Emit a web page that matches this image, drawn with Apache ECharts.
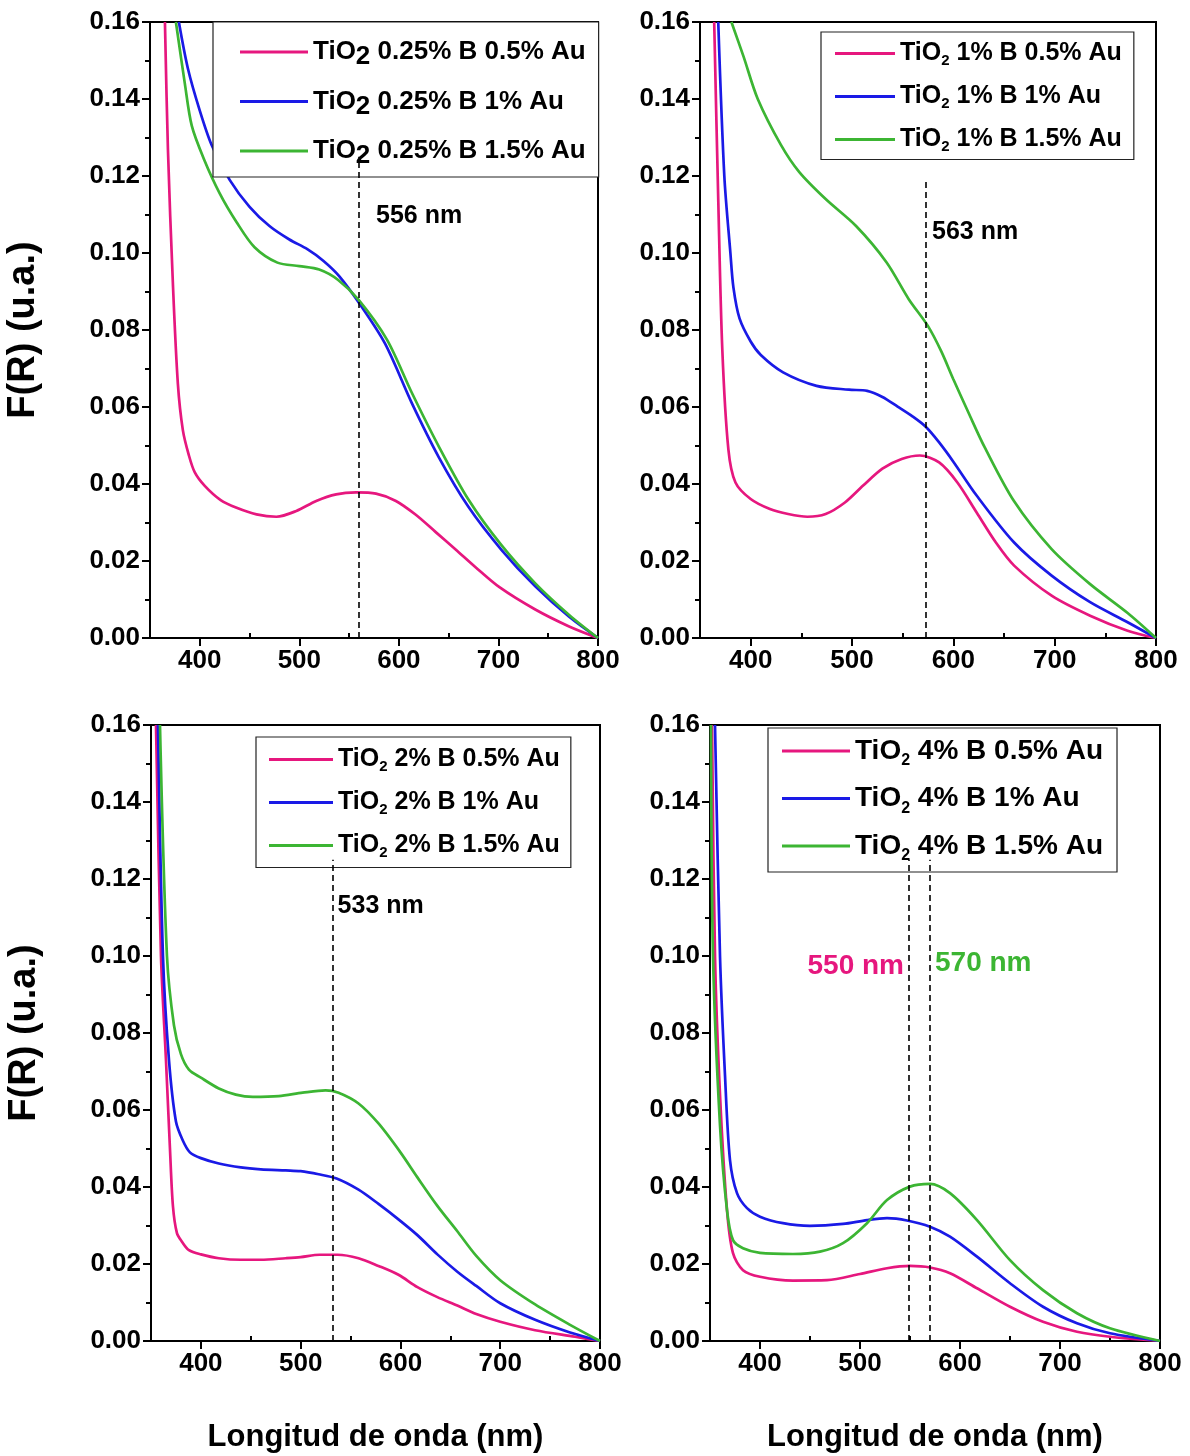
<!DOCTYPE html>
<html>
<head>
<meta charset="utf-8">
<script src="https://cdn.jsdelivr.net/npm/echarts@6/dist/echarts.min.js"></script>
<style>
  html, body { margin: 0; padding: 0; background: #fff; }
  #chart { width: 1190px; height: 1456px; }
</style>
</head>
<body>
<div id="chart"></div>
<script>
// ---- data (wavelength nm, F(R)) ----
var tlPink = [[365,0.16],[368,0.127],[373,0.092],[378,0.066],[383,0.054],[389,0.0475],[395,0.043],[405,0.0395],[421,0.0358],[437,0.0338],[457,0.0321],[477,0.0315],[497,0.0330],[517,0.0356],[537,0.0373],[557,0.0378],[577,0.0375],[597,0.0356],[617,0.0320],[637,0.0275],[657,0.0230],[677,0.0184],[701,0.0132],[737,0.0074],[771,0.0030],[800,0]];
var tlBlue = [[379,0.16],[388,0.148],[400,0.137],[412,0.128],[430,0.119],[450,0.112],[470,0.107],[490,0.1035],[508,0.101],[524,0.098],[540,0.094],[560,0.087],[586,0.0765],[613,0.061],[640,0.047],[670,0.034],[703,0.0229],[737,0.0134],[771,0.0055],[800,0]];
var tlGreen = [[376,0.16],[385,0.144],[392,0.133],[404,0.1245],[420,0.1155],[437,0.108],[455,0.1015],[478,0.0975],[500,0.0966],[520,0.0957],[539,0.093],[560,0.0877],[588,0.0775],[613,0.0637],[640,0.0498],[670,0.0359],[703,0.0241],[737,0.0142],[771,0.006],[800,0]];

var trPink = [[364,0.16],[368,0.114],[372,0.075],[378,0.049],[385,0.0404],[400,0.0361],[419,0.0335],[437,0.0322],[456,0.0315],[474,0.0322],[493,0.0352],[511,0.0396],[530,0.044],[549,0.0465],[567,0.0474],[586,0.0456],[604,0.0404],[623,0.0326],[642,0.0248],[660,0.0188],[697,0.011],[735,0.0058],[772,0.0019],[800,0]];
var trBlue = [[368,0.16],[374,0.12],[380,0.10],[383,0.091],[389,0.083],[400,0.077],[410,0.0735],[432,0.069],[465,0.0655],[497,0.0645],[515,0.0642],[530,0.0626],[545,0.0601],[560,0.0575],[573,0.0548],[586,0.0508],[600,0.0458],[623,0.037],[660,0.0248],[697,0.0162],[735,0.0093],[772,0.0041],[800,0]];
var trGreen = [[381,0.16],[393,0.151],[407,0.14],[430,0.128],[448,0.121],[474,0.114],[504,0.107],[534,0.0976],[556,0.088],[575,0.081],[588,0.0745],[600,0.0672],[615,0.0585],[631,0.0495],[660,0.0355],[697,0.0231],[735,0.0140],[772,0.0065],[800,0]];

var blPink = [[355,0.16],[360,0.10],[365,0.073],[369,0.05],[372,0.035],[376,0.028],[381,0.0258],[388,0.0236],[400,0.0225],[418,0.0215],[440,0.0211],[460,0.0211],[485,0.0215],[500,0.0218],[519,0.0224],[537,0.0224],[558,0.0215],[578,0.0195],[598,0.0172],[617,0.0140],[637,0.0114],[657,0.0092],[676,0.0070],[700,0.0050],[735,0.0028],[775,0.0011],[800,0]];
var blBlue = [[357,0.16],[362,0.10],[368,0.073],[375,0.057],[382,0.052],[389,0.049],[400,0.0475],[418,0.0461],[440,0.0451],[460,0.0446],[485,0.0443],[500,0.0441],[518,0.0433],[536,0.0422],[558,0.0393],[578,0.0356],[598,0.0316],[617,0.0275],[637,0.0225],[657,0.0180],[676,0.0143],[700,0.0098],[735,0.0055],[770,0.0022],[800,0]];
var blGreen = [[359,0.16],[366,0.10],[373,0.082],[380,0.0745],[388,0.0705],[400,0.0684],[418,0.0656],[435,0.064],[452,0.0634],[478,0.0636],[502,0.0645],[525,0.0651],[538,0.0645],[558,0.0617],[578,0.0565],[600,0.049],[617,0.0425],[637,0.0351],[657,0.0285],[676,0.0221],[700,0.0158],[735,0.0095],[770,0.0042],[800,0]];

var brPink = [[352,0.16],[355,0.10],[360,0.064],[367,0.034],[373,0.0228],[383,0.0184],[400,0.0167],[433,0.0157],[467,0.0158],[500,0.0174],[527,0.0189],[550,0.0195],[570,0.0191],[590,0.0176],[617,0.0137],[650,0.0089],[683,0.005],[717,0.0024],[750,0.0011],[800,0]];
var brBlue = [[355,0.16],[360,0.10],[365,0.069],[370,0.047],[377,0.0384],[387,0.0345],[400,0.0323],[423,0.0306],[450,0.0299],[483,0.0304],[507,0.0314],[527,0.0319],[547,0.0313],[570,0.0297],[590,0.0271],[617,0.0219],[650,0.015],[683,0.0089],[717,0.0046],[750,0.002],[800,0]];
var brGreen = [[351,0.16],[353,0.10],[360,0.056],[367,0.034],[373,0.0262],[383,0.0241],[400,0.0229],[433,0.0226],[460,0.0232],[483,0.0254],[507,0.0306],[527,0.0366],[550,0.0401],[570,0.0408],[590,0.0384],[617,0.0314],[650,0.021],[683,0.0132],[717,0.0072],[750,0.0033],[800,0]];

var tlNames = ['TiO2 0.25% B 0.5% Au', 'TiO2 0.25% B 1% Au', 'TiO2 0.25% B 1.5% Au'];
var trNames = ['TiO2 1% B 0.5% Au', 'TiO2 1% B 1% Au', 'TiO2 1% B 1.5% Au'];
var blNames = ['TiO2 2% B 0.5% Au', 'TiO2 2% B 1% Au', 'TiO2 2% B 1.5% Au'];
var brNames = ['TiO2 4% B 0.5% Au', 'TiO2 4% B 1% Au', 'TiO2 4% B 1.5% Au'];

var xMajorTicks = [400, 500, 600, 700, 800];
var xMinorTicks = [350, 450, 550, 650, 750];

// dashed peak lines: [wavelength, top value]
var peakTL = [560, 0.125];
var peakTR = [573, 0.119];
var peakBL = [532, 0.125];
var peakBR = [[549, 0.125], [570, 0.125]];

var FONT = "'Liberation Sans', Arial, sans-serif";
var PINK = '#e6177e';
var BLUE = '#1a1ae6';
var GREEN = '#3cb533';

var grids = [
    { left: 150, top: 22, width: 448, height: 616 },
    { left: 700, top: 22, width: 456, height: 616 },
    { left: 151, top: 725, width: 449, height: 616 },
    { left: 710, top: 725, width: 450, height: 616 }
];
grids.forEach(function (g) {
    g.show = true;
    g.borderColor = '#000';
    g.borderWidth = 2;
    g.backgroundColor = 'transparent';
});

function MainXAxis(_i, _withName) {
    return {
        type: 'value', gridIndex: _i, min: 350, max: 800,
        axisLine: { show: true, onZero: false, lineStyle: { color: '#000', width: 2 } },
        axisTick: { show: true, customValues: xMajorTicks, length: 8, lineStyle: { color: '#000', width: 2 } },
        axisLabel: {
            customValues: xMajorTicks, margin: 10, color: '#000',
            fontFamily: FONT, fontWeight: 'bold', fontSize: 26
        },
        splitLine: { show: false },
        name: _withName ? 'Longitud de onda (nm)' : '',
        nameLocation: 'middle',
        nameGap: 81,
        nameTextStyle: { fontFamily: FONT, fontWeight: 'bold', fontSize: 31, color: '#000' }
    };
}

function MinorXAxis(_i) {
    return {
        type: 'value', gridIndex: _i, min: 350, max: 800,
        axisLine: { show: false },
        axisTick: { show: true, customValues: xMinorTicks, length: 5, lineStyle: { color: '#000', width: 2 } },
        axisLabel: { show: false },
        splitLine: { show: false }
    };
}

function MakeYAxis(_i, _withName) {
    return {
        type: 'value', gridIndex: _i, min: 0, max: 0.16, interval: 0.02,
        axisLine: { show: true, onZero: false, lineStyle: { color: '#000', width: 2 } },
        axisTick: { show: true, length: 8, lineStyle: { color: '#000', width: 2 } },
        minorTick: { show: true, splitNumber: 2, length: 5, lineStyle: { color: '#000', width: 2 } },
        axisLabel: {
            margin: 10, color: '#000', fontFamily: FONT, fontWeight: 'bold', fontSize: 26,
            formatter: function (v) { return v.toFixed(2); }
        },
        splitLine: { show: false },
        minorSplitLine: { show: false },
        name: _withName ? 'F(R) (u.a.)' : '',
        nameLocation: 'middle',
        nameGap: 107,
        nameTextStyle: { fontFamily: FONT, fontWeight: 'bold', fontSize: 38, color: '#000' }
    };
}

function MakeLegend(_names, _cfg) {
    var subLine = 2 * (_cfg.lh / 2 - _cfg.drop);
    return {
        orient: 'vertical',
        left: _cfg.left, top: _cfg.top,
        padding: _cfg.padding,
        itemGap: _cfg.gap,
        itemWidth: _cfg.iw, itemHeight: 3,
        icon: 'rect',
        selectedMode: false,
        backgroundColor: '#fff',
        borderColor: '#222', borderWidth: 1.2,
        data: _names,
        formatter: function (name) {
            return '{b|TiO}{s|2}{b|' + name.slice(4) + '}';
        },
        textStyle: {
            color: '#000',
            rich: {
                b: { fontFamily: FONT, fontWeight: 'bold', fontSize: _cfg.fs, color: '#000', lineHeight: _cfg.lh, verticalAlign: 'middle' },
                s: { fontFamily: FONT, fontWeight: 'bold', fontSize: _cfg.sub, color: '#000', lineHeight: subLine, verticalAlign: 'bottom' }
            }
        }
    };
}

function Spectrum(_name, _data, _color, _i) {
    return {
        name: _name, type: 'line', xAxisIndex: _i, yAxisIndex: _i,
        data: _data, symbol: 'none', showSymbol: false,
        smooth: 0.3,
        color: _color,
        itemStyle: { color: _color },
        lineStyle: { width: 2.7, color: _color },
        z: 3
    };
}

function DashedLines(_lines) {
    return {
        silent: true,
        symbol: ['none', 'none'],
        label: { show: false },
        lineStyle: { color: '#000', type: [6, 4], width: 1.6 },
        data: _lines.map(function (l) { return [{ coord: [l[0], 0] }, { coord: [l[0], l[1]] }]; })
    };
}

function PeakText(_text, _coord, _pos, _color, _size) {
    return {
        coord: _coord,
        symbol: 'circle', symbolSize: 0,
        label: {
            show: true, position: _pos, distance: 5, formatter: _text,
            fontFamily: FONT, fontWeight: 'bold', fontSize: _size, color: _color
        }
    };
}

var sTL = Spectrum(tlNames[0], tlPink, PINK, 0);
sTL.markLine = DashedLines([peakTL]);
sTL.markPoint = { silent: true, data: [PeakText('556 nm', [572, 0.1096], 'right', '#000', 25)] };

var sTR = Spectrum(trNames[0], trPink, PINK, 1);
sTR.markLine = DashedLines([peakTR]);
sTR.markPoint = { silent: true, data: [PeakText('563 nm', [574, 0.1055], 'right', '#000', 25)] };

var sBL = Spectrum(blNames[0], blPink, PINK, 2);
sBL.markLine = DashedLines([peakBL]);
sBL.markPoint = { silent: true, data: [PeakText('533 nm', [532, 0.113], 'right', '#000', 25)] };

var sBR = Spectrum(brNames[0], brPink, PINK, 3);
sBR.markLine = DashedLines(peakBR);
sBR.markPoint = {
    silent: true,
    data: [
        PeakText('550 nm', [549, 0.0974], 'left', PINK, 28),
        PeakText('570 nm', [570, 0.0982], 'right', GREEN, 28)
    ]
};

var option = {
    animation: false,
    backgroundColor: '#fff',
    grid: grids,
    xAxis: [
        MainXAxis(0, false), MainXAxis(1, false), MainXAxis(2, true), MainXAxis(3, true),
        MinorXAxis(0), MinorXAxis(1), MinorXAxis(2), MinorXAxis(3)
    ],
    yAxis: [MakeYAxis(0, true), MakeYAxis(1, false), MakeYAxis(2, true), MakeYAxis(3, false)],
    legend: [
        MakeLegend(tlNames, { left: 213, top: 22, padding: [17, 13, 8, 27], gap: 18.5, iw: 68, fs: 26, sub: 26, lh: 36, drop: 12 }),
        MakeLegend(trNames, { left: 821, top: 32, padding: [9, 12, 5, 14], gap: 15.5, iw: 60, fs: 25, sub: 15, lh: 30, drop: 14 }),
        MakeLegend(blNames, { left: 256, top: 737, padding: [10, 11, 7, 13], gap: 15.5, iw: 64, fs: 25, sub: 15, lh: 30, drop: 14 }),
        MakeLegend(brNames, { left: 768, top: 728, padding: [9, 14, 8, 14], gap: 15.5, iw: 68, fs: 28, sub: 16, lh: 36, drop: 16 })
    ],
    series: [
        sTL, Spectrum(tlNames[1], tlBlue, BLUE, 0), Spectrum(tlNames[2], tlGreen, GREEN, 0),
        sTR, Spectrum(trNames[1], trBlue, BLUE, 1), Spectrum(trNames[2], trGreen, GREEN, 1),
        sBL, Spectrum(blNames[1], blBlue, BLUE, 2), Spectrum(blNames[2], blGreen, GREEN, 2),
        sBR, Spectrum(brNames[1], brBlue, BLUE, 3), Spectrum(brNames[2], brGreen, GREEN, 3)
    ]
};

var myChart = echarts.init(document.getElementById('chart'), null, { renderer: 'canvas' });
myChart.setOption(option);
</script>
</body>
</html>
